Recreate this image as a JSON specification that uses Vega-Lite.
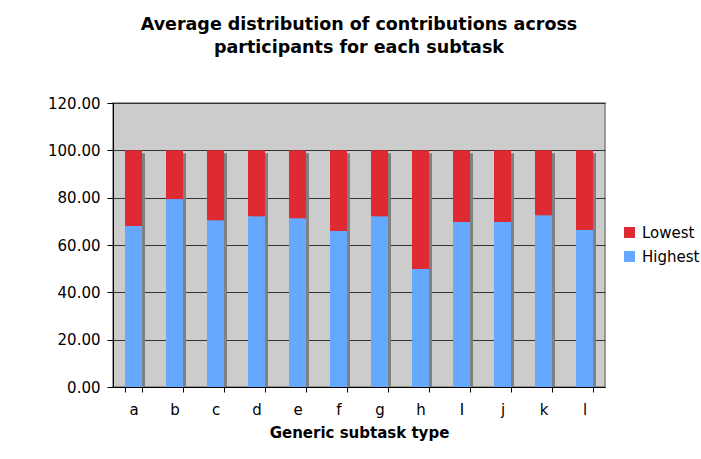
{
  "$schema": "https://vega.github.io/schema/vega-lite/v6.json",
  "autosize": "none",
  "width": 492,
  "height": 284,
  "padding": {"left": 113, "top": 103, "right": 96, "bottom": 72},
  "background": "#FFFFFF",
  "config": {
    "font": "DejaVu Sans",
    "view": {"fill": "#CCCCCC", "stroke": "#808080", "strokeWidth": 1.5}
  },
  "title": {
    "text": ["Average distribution of contributions across", "participants for each subtask"],
    "font": "DejaVu Sans",
    "fontSize": 17.5,
    "fontWeight": "bold",
    "color": "#000000",
    "anchor": "middle",
    "lineHeight": 23,
    "offset": 40
  },
  "data": {
    "values": [
      {"task": "a", "series": "Highest", "rank": 1, "value": 68.0},
      {"task": "a", "series": "Lowest", "rank": 2, "value": 32.0},
      {"task": "b", "series": "Highest", "rank": 1, "value": 79.4},
      {"task": "b", "series": "Lowest", "rank": 2, "value": 20.6},
      {"task": "c", "series": "Highest", "rank": 1, "value": 70.5},
      {"task": "c", "series": "Lowest", "rank": 2, "value": 29.5},
      {"task": "d", "series": "Highest", "rank": 1, "value": 72.2},
      {"task": "d", "series": "Lowest", "rank": 2, "value": 27.8},
      {"task": "e", "series": "Highest", "rank": 1, "value": 71.3},
      {"task": "e", "series": "Lowest", "rank": 2, "value": 28.7},
      {"task": "f", "series": "Highest", "rank": 1, "value": 65.9},
      {"task": "f", "series": "Lowest", "rank": 2, "value": 34.1},
      {"task": "g", "series": "Highest", "rank": 1, "value": 72.2},
      {"task": "g", "series": "Lowest", "rank": 2, "value": 27.8},
      {"task": "h", "series": "Highest", "rank": 1, "value": 49.9},
      {"task": "h", "series": "Lowest", "rank": 2, "value": 50.1},
      {"task": "I", "series": "Highest", "rank": 1, "value": 69.7},
      {"task": "I", "series": "Lowest", "rank": 2, "value": 30.3},
      {"task": "j", "series": "Highest", "rank": 1, "value": 69.7},
      {"task": "j", "series": "Lowest", "rank": 2, "value": 30.3},
      {"task": "k", "series": "Highest", "rank": 1, "value": 72.6},
      {"task": "k", "series": "Lowest", "rank": 2, "value": 27.4},
      {"task": "l", "series": "Highest", "rank": 1, "value": 66.3},
      {"task": "l", "series": "Lowest", "rank": 2, "value": 33.7}
    ]
  },
  "encoding": {
    "x": {
      "field": "task",
      "type": "nominal",
      "sort": null,
      "scale": {"paddingInner": 0.585, "paddingOuter": 0.2925},
      "axis": {
        "title": "Generic subtask type",
        "titleFont": "DejaVu Sans",
        "titleFontSize": 15,
        "titleFontWeight": "bold",
        "titleColor": "#000000",
        "titlePadding": 8,
        "labelAngle": 0,
        "labelFontSize": 15,
        "labelColor": "#000000",
        "labelPadding": 10,
        "tickBand": "extent",
        "tickSize": 5,
        "tickColor": "#000000",
        "domainColor": "#000000",
        "grid": false
      }
    }
  },
  "layer": [
    {
      "mark": {"type": "bar", "color": "#808080", "xOffset": 3, "yOffset": 3, "clip": true},
      "encoding": {
        "y": {"aggregate": "sum", "field": "value", "type": "quantitative", "stack": null, "scale": {"domain": [0, 120]}}
      }
    },
    {
      "mark": {"type": "bar"},
      "encoding": {
        "y": {
          "field": "value",
          "type": "quantitative",
          "stack": "zero",
          "scale": {"domain": [0, 120]},
          "axis": {
            "title": null,
            "values": [0, 20, 40, 60, 80, 100, 120],
            "format": ".2f",
            "labelFontSize": 15,
            "labelColor": "#000000",
            "labelPadding": 7,
            "tickSize": 6,
            "tickColor": "#000000",
            "domainColor": "#000000",
            "gridColor": "#333333",
            "gridWidth": 1
          }
        },
        "color": {
          "field": "series",
          "type": "nominal",
          "scale": {"domain": ["Lowest", "Highest"], "range": ["#DE2B33", "#64A8FF"]},
          "legend": {
            "title": null,
            "orient": "none",
            "legendX": 509,
            "legendY": 122,
            "symbolType": "square",
            "symbolSize": 121,
            "symbolStrokeWidth": 0,
            "symbolOpacity": 1,
            "labelFontSize": 15,
            "labelColor": "#000000",
            "labelOffset": 5,
            "rowPadding": 8
          }
        },
        "order": {"field": "rank", "type": "quantitative"}
      }
    }
  ]
}
